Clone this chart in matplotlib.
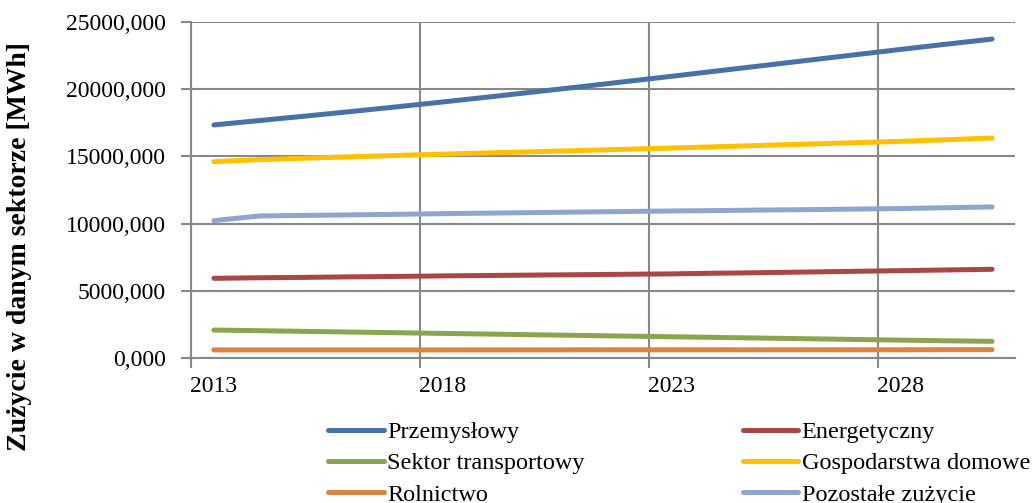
import matplotlib.pyplot as plt
import numpy as np
from matplotlib.ticker import FixedLocator, FuncFormatter

plt.rcParams['font.family'] = ['Liberation Serif', 'DejaVu Serif']

years = list(range(2013, 2031))

# values in thousands
przemyslowy = [17340, 17670, 18000, 18340, 18690, 19050, 19420, 19800, 20180,
               20570, 20960, 21360, 21760, 22160, 22560, 22960, 23350, 23730]
energetyczny = [5930, 5970, 6000, 6040, 6070, 6110, 6140, 6170, 6200,
                6230, 6260, 6310, 6350, 6400, 6450, 6500, 6550, 6600]
transportowy = [2080, 2030, 1980, 1930, 1880, 1830, 1780, 1730, 1680,
                1630, 1580, 1530, 1480, 1430, 1380, 1330, 1280, 1240]
gospodarstwa = [14610, 14760, 14870, 14970, 15070, 15170, 15260, 15350, 15440,
                15530, 15620, 15720, 15820, 15920, 16020, 16120, 16240, 16370]
rolnictwo = [600, 600, 600, 600, 600, 600, 600, 600, 610,
             610, 610, 610, 610, 610, 610, 610, 620, 620]
pozostale = [10220, 10570, 10610, 10650, 10690, 10740, 10780, 10820, 10860,
             10900, 10940, 10970, 11010, 11040, 11080, 11120, 11180, 11240]

series = [
    ("Przemysłowy", przemyslowy, "#4572a7"),
    ("Energetyczny", energetyczny, "#aa4643"),
    ("Sektor transportowy", transportowy, "#89a54e"),
    ("Gospodarstwa domowe", gospodarstwa, "#ffc000"),
    ("Rolnictwo", rolnictwo, "#db843d"),
    ("Pozostałe zużycie", pozostale, "#8ea6cf"),
]

fig = plt.figure(figsize=(10.32, 5.03), dpi=100)
ax = fig.add_axes([191/1032, 1 - 358/503, (1015 - 191)/1032, (358 - 22)/503])

x = np.arange(len(years))
handles = []
for name, vals, col in series:
    ln, = ax.plot(x, vals, color=col, lw=3.6, label=name, solid_capstyle='round')
    handles.append(ln)

ax.set_xlim(-0.5, len(years) - 0.5)
ax.set_ylim(0, 25000)

grid_col = '#888888'
ax.xaxis.set_major_locator(FixedLocator([-0.5, 4.5, 9.5, 14.5]))
ax.xaxis.set_major_formatter(FuncFormatter(lambda v, p: ''))
ax.xaxis.set_minor_locator(FixedLocator([0, 5, 10, 15]))
ax.xaxis.set_minor_formatter(FuncFormatter(lambda v, p: str(years[int(round(v))])))
ax.tick_params(axis='x', which='major', length=7, width=1.5, color=grid_col)
ax.tick_params(axis='x', which='minor', length=0, labelsize=17, pad=13)

ax.set_yticks(np.arange(0, 25001, 5000))
ax.yaxis.set_major_formatter(FuncFormatter(lambda v, p: f"{v:.3f}".replace('.', ',')))
ax.tick_params(axis='y', length=7, width=1.5, color=grid_col, labelsize=17, pad=11)

ax.grid(True, which='major', color=grid_col, lw=1.5)
ax.set_axisbelow(True)
for s in ['top', 'right']:
    ax.spines[s].set_visible(False)
for s in ['left', 'bottom']:
    ax.spines[s].set_color(grid_col)
    ax.spines[s].set_linewidth(1.5)

fig.text(20/1032, 1 - 247/503, "Zużycie w danym sektorze [MWh]", rotation=90,
         ha='center', va='center', fontsize=20, fontweight='bold')

# row-wise legend order like the original
order = [0, 2, 4, 1, 3, 5]
fig.legend([handles[i] for i in order], [series[i][0] for i in order],
           loc='upper left', bbox_to_anchor=(328/1032, 1 - 421/503), ncol=2,
           frameon=False, fontsize=17.5, borderpad=0, borderaxespad=0,
           handlelength=2.3, handletextpad=0.13, columnspacing=6.5,
           labelspacing=0.38)

fig.savefig("out.png", dpi=100)
